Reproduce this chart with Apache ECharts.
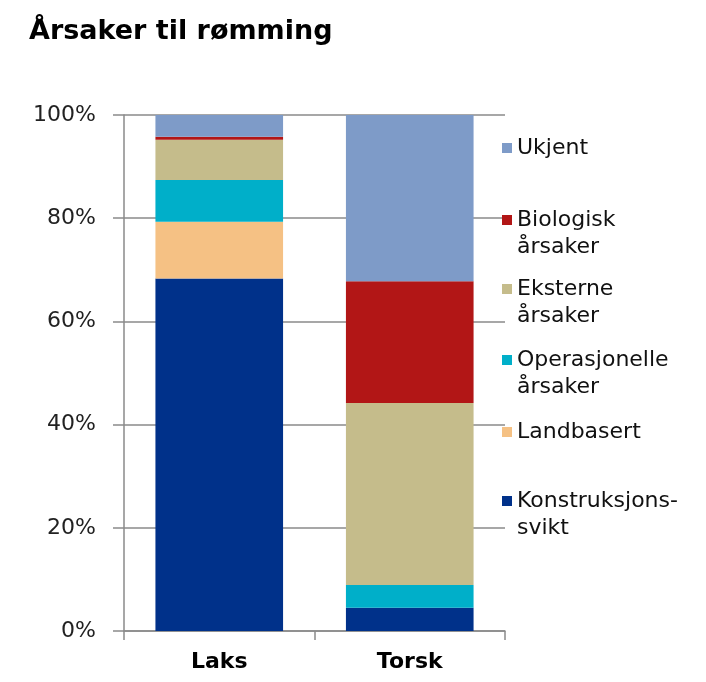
<!DOCTYPE html>
<html>
<head>
<meta charset="utf-8">
<script src="https://cdn.jsdelivr.net/npm/echarts@6/dist/echarts.min.js"></script>
<style>
html,body{margin:0;padding:0;background:#fff;}
#chart{width:706px;height:682px;}
</style>
</head>
<body>
<div id="chart"></div>
<script>
const categories = ['Laks', 'Torsk'];
const seriesNames = ['Konstruksjonssvikt', 'Landbasert', 'Operasjonelle årsaker', 'Eksterne årsaker', 'Biologisk årsaker', 'Ukjent'];
const legendFirstLines = ['Konstruksjons-', 'Landbasert', 'Operasjonelle', 'Eksterne', 'Biologisk', 'Ukjent'];
const legendSecondLines = ['svikt', '', 'årsaker', 'årsaker', 'årsaker', ''];
const konstruksjonssvikt = [68.3, 4.5];
const landbasert = [11.0, 0];
const operasjonelle = [8.1, 4.4];
const eksterne = [7.8, 35.3];
const biologisk = [0.6, 23.6];
const ukjent = [4.2, 32.2];
const yTicks = [0, 20, 40, 60, 80, 100];
const colors = ['#00318A', '#F5C184', '#00AFC9', '#C5BC8B', '#B21616', '#7E9BC8'];

const values = [konstruksjonssvikt, landbasert, operasjonelle, eksterne, biologisk, ukjent];
const FONT = 'DejaVu Sans';
const LEGEND_FS = 22;
const legendIconCenters = [501, 432, 360, 289, 220, 148];
const LH = 27;
const ICON = 10;

const legends = seriesNames.map((name, i) => ({
  data: [name],
  left: 502,
  top: legendIconCenters[i] - LH / 2,
  padding: 0,
  itemWidth: ICON,
  itemHeight: ICON,
  selectedMode: false,
  icon: 'rect',
  formatter: () => legendFirstLines[i],
  textStyle: {fontFamily: FONT, fontSize: LEGEND_FS, color: '#111', lineHeight: LH}
}));

const secondLineGraphics = seriesNames.map((name, i) => legendSecondLines[i] ? {
  type: 'text',
  x: 502 + ICON + 5,
  y: legendIconCenters[i] + LH,
  style: {
    text: legendSecondLines[i],
    fontFamily: FONT,
    fontSize: LEGEND_FS,
    fill: '#111',
    textAlign: 'left',
    textVerticalAlign: 'middle'
  }
} : null).filter(Boolean);

const chart = echarts.init(document.getElementById('chart'), null, {renderer: 'canvas'});
chart.setOption({
  animation: false,
  backgroundColor: '#fff',
  title: {
    text: 'Årsaker til rømming',
    left: 24,
    top: 13,
    textStyle: {fontFamily: FONT, fontSize: 27, fontWeight: 'bold', color: '#000'}
  },
  legend: legends,
  graphic: secondLineGraphics,
  grid: {left: 124, right: 201, top: 115, bottom: 51, containLabel: false},
  xAxis: {
    type: 'category',
    data: categories,
    axisLine: {lineStyle: {color: '#8a8a8a', width: 1.5}},
    axisTick: {show: true, length: 9, lineStyle: {color: '#8a8a8a', width: 1.5}},
    axisLabel: {fontFamily: FONT, fontSize: 22, fontWeight: 'bold', color: '#000', margin: 20}
  },
  yAxis: {
    type: 'value',
    min: yTicks[0],
    max: yTicks[yTicks.length - 1],
    interval: yTicks[1] - yTicks[0],
    axisLine: {show: true, lineStyle: {color: '#8a8a8a', width: 1.5}},
    axisTick: {show: true, length: 11, lineStyle: {color: '#8a8a8a', width: 1.5}},
    axisLabel: {fontFamily: FONT, fontSize: 22, color: '#222', margin: 28, formatter: v => v + '%'},
    splitLine: {show: true, lineStyle: {color: '#8a8a8a', width: 1.5}}
  },
  series: seriesNames.map((name, i) => ({
    name: name,
    type: 'bar',
    stack: 'total',
    data: values[i],
    barWidth: '67%',
    itemStyle: {color: colors[i]},
    emphasis: {disabled: true}
  }))
});
</script>
</body>
</html>
